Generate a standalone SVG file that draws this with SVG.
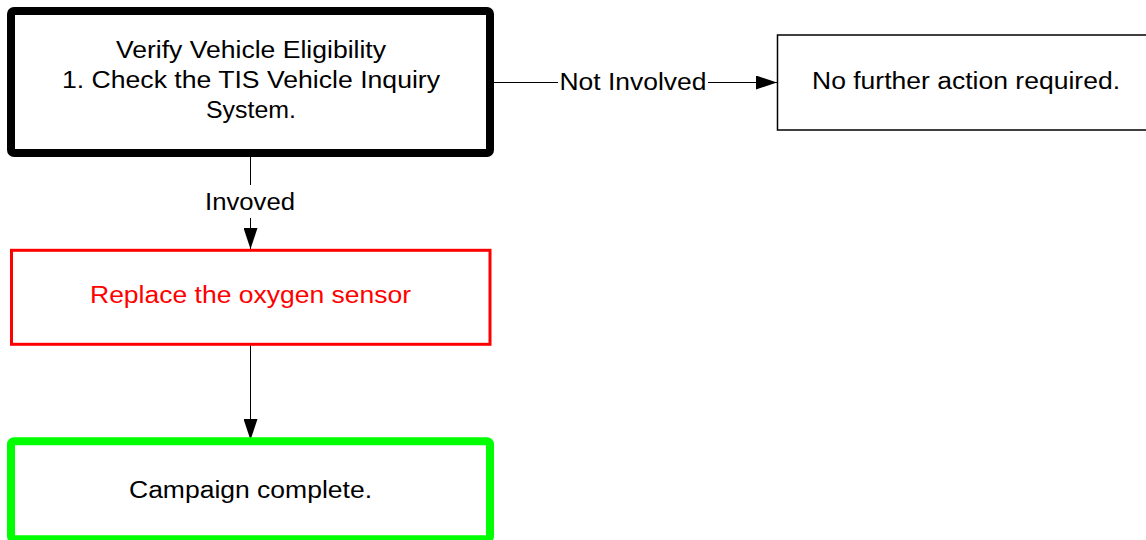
<svg xmlns="http://www.w3.org/2000/svg" width="1146" height="540" viewBox="0 0 1146 540">
<style>
text{font-family:"Liberation Sans",Arial,sans-serif;font-size:23px;fill:#000;text-anchor:middle;}
.box{fill:#fff;}
.conn{stroke:#000;stroke-width:1;fill:none;}
.lblbg{fill:#fff;}
</style>
<defs>
<marker id="arr" markerUnits="userSpaceOnUse" markerWidth="21" markerHeight="14" refX="21" refY="7" orient="auto">
<path d="M0,0 L21,7 L0,14 z" fill="#000"/>
</marker>
</defs>
<rect width="1146" height="540" fill="#fff"/>
<g id="connectors">
<path class="conn" d="M494,82.5 H777" marker-end="url(#arr)"/>
<rect class="lblbg" x="558" y="70" width="150" height="26"/>
<text x="633" y="90" textLength="147" lengthAdjust="spacingAndGlyphs">Not Involved</text>
<path class="conn" d="M250.5,157 V249" marker-end="url(#arr)"/>
<rect class="lblbg" x="203" y="185" width="95" height="33"/>
<text x="250" y="209.5" textLength="90" lengthAdjust="spacingAndGlyphs">Invoved</text>
<path class="conn" d="M250.5,345 V440" marker-end="url(#arr)"/>
</g>
<g id="verify">
<rect class="box" x="11" y="11" width="479" height="142" rx="3" stroke="#000" stroke-width="8"/>
<text x="251" y="58" textLength="270" lengthAdjust="spacingAndGlyphs">Verify Vehicle Eligibility</text>
<text x="251" y="88" textLength="378" lengthAdjust="spacingAndGlyphs">1. Check the TIS Vehicle Inquiry</text>
<text x="251" y="118" textLength="90" lengthAdjust="spacingAndGlyphs">System.</text>
</g>
<g id="noaction">
<rect class="box" x="777.5" y="35" width="378" height="95" stroke="#000" stroke-width="1.5"/>
<text x="966" y="89" textLength="308" lengthAdjust="spacingAndGlyphs">No further action required.</text>
</g>
<g id="replace">
<rect class="box" x="11.5" y="250.3" width="478.5" height="94" stroke="#ff0000" stroke-width="3"/>
<text x="250.5" y="303" textLength="321" lengthAdjust="spacingAndGlyphs" style="fill:#ff0000">Replace the oxygen sensor</text>
</g>
<g id="complete">
<rect class="box" x="11" y="441.3" width="479" height="98" rx="3" stroke="#00ff00" stroke-width="8"/>
<text x="250.5" y="498" textLength="243" lengthAdjust="spacingAndGlyphs">Campaign complete.</text>
</g>
</svg>
